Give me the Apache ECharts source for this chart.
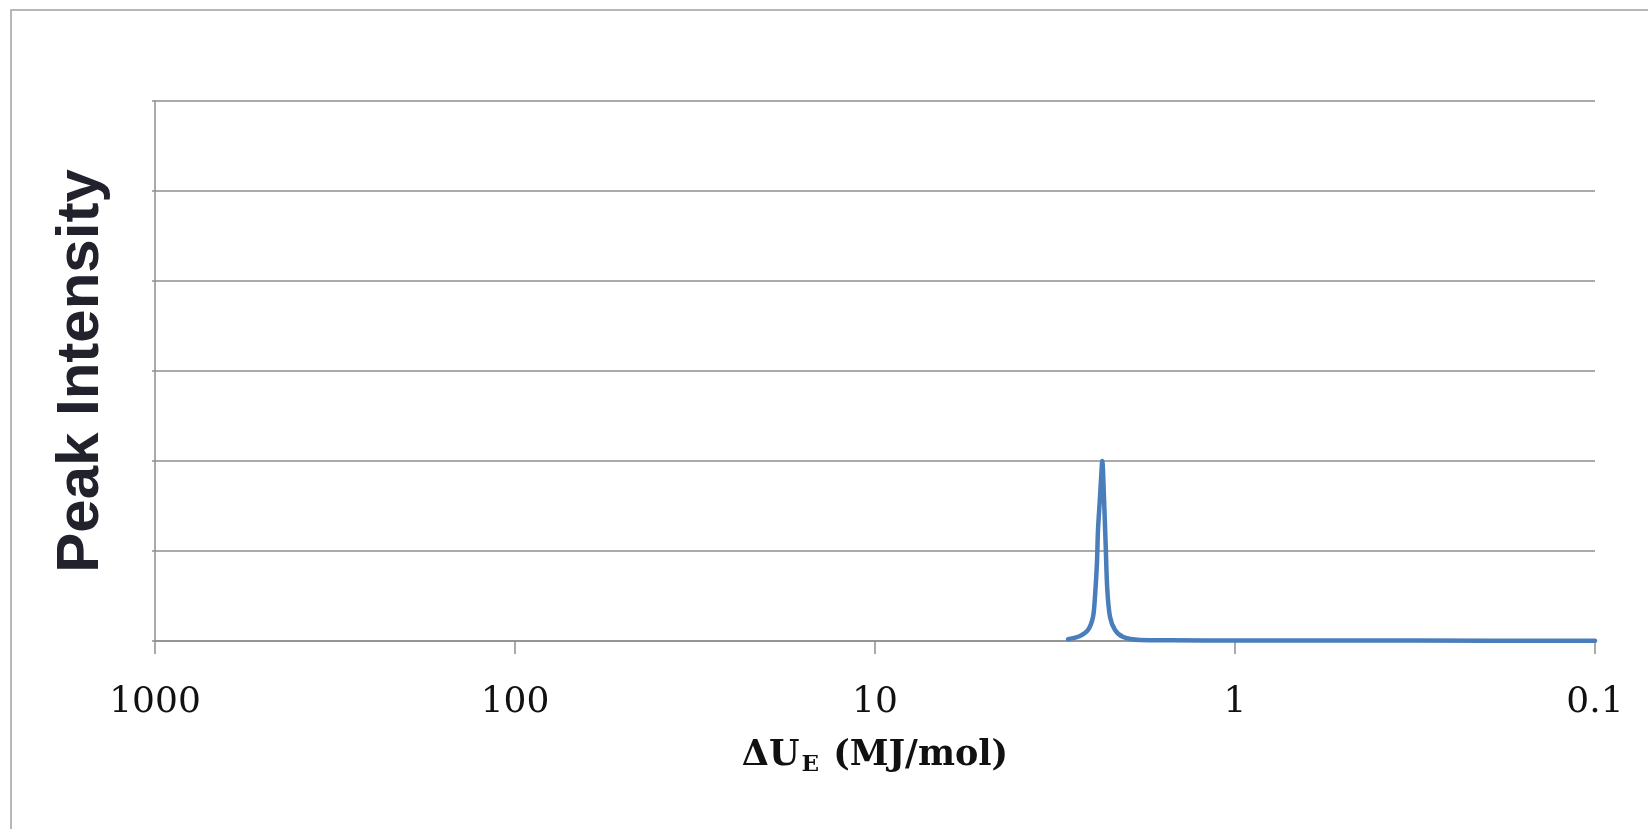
<!DOCTYPE html>
<html>
<head>
<meta charset="utf-8">
<script src="https://cdn.jsdelivr.net/npm/echarts@6/dist/echarts.min.js"></script>
<style>html,body{margin:0;padding:0;background:#fff}#c{width:1648px;height:829px}</style>
</head>
<body>
<div id="c"></div>
<script>
// Energy values (MJ/mol) and peak intensities
var energy = [2.910, 2.695, 2.561, 2.480, 2.449, 2.418, 2.402, 2.371, 2.341, 2.337,
              2.312, 2.286, 2.263, 2.224, 2.154, 2.047, 1.836, 1.5, 1.0, 0.5, 0.2, 0.1];
var intensity = [0.019, 0.056, 0.122, 0.267, 0.49, 0.868, 1.236, 1.603, 1.982, 2.0,
                 1.603, 1.046, 0.568, 0.267, 0.122, 0.045, 0.011, 0.008, 0.006, 0.005, 0.004, 0.004];
var xTickLabels = {1000: '1000', 100: '100', 10: '10', 1: '1', 0.1: '0.1'};
var yMin = 0, yMax = 6, yStep = 1;

var data = energy.map(function (e, i) { return [e, intensity[i]]; });
var gridColor = '#8e8e8e';

var chart = echarts.init(document.getElementById('c'));
chart.setOption({
  animation: false,
  backgroundColor: '#ffffff',
  graphic: [{
    type: 'rect', silent: true,
    shape: {x: 11, y: 10, width: 3000, height: 3000},
    style: {fill: 'none', stroke: '#a0a0a0', lineWidth: 1.5}
  }],
  grid: {left: 155, right: 53, top: 101, bottom: 188, containLabel: false},
  xAxis: {
    type: 'log', logBase: 10, min: 0.1, max: 1000, inverse: true,
    name: '{b|ΔU}{s|E}{b| (MJ/mol)}',
    nameLocation: 'middle', nameGap: 94,
    nameTextStyle: {
      rich: {
        b: {fontFamily: 'DejaVu Serif', fontWeight: 'bold', fontSize: 35, color: '#111', lineHeight: 42},
        s: {fontFamily: 'DejaVu Serif', fontWeight: 'bold', fontSize: 23, color: '#111', lineHeight: 42, verticalAlign: 'bottom', padding: [0, 2, 0, 2]}
      }
    },
    axisLine: {show: true, lineStyle: {color: gridColor, width: 1.5}},
    axisTick: {show: true, length: 13, lineStyle: {color: gridColor, width: 1.5}},
    minorTick: {show: false},
    splitLine: {show: false},
    axisLabel: {
      margin: 44, fontFamily: 'DejaVu Serif', fontSize: 36, color: '#111',
      formatter: function (v) {
        var k = Object.keys(xTickLabels).find(function (key) { return Math.abs(Number(key) - v) < 1e-9 * Math.max(1, v); });
        return k !== undefined ? xTickLabels[k] : '';
      }
    }
  },
  yAxis: {
    type: 'value', min: yMin, max: yMax, interval: yStep,
    name: 'Peak Intensity', nameLocation: 'middle', nameGap: 44,
    nameTextStyle: {fontFamily: 'Liberation Sans', fontWeight: 'bold', fontSize: 60, color: '#22222c'},
    axisLine: {show: true, lineStyle: {color: gridColor, width: 1.5}},
    axisTick: {show: true, length: 3, lineStyle: {color: gridColor, width: 1.5}},
    axisLabel: {show: false},
    splitLine: {show: true, lineStyle: {color: gridColor, width: 1.5}}
  },
  series: [{
    type: 'line', data: data, symbol: 'none', smooth: 0.3,
    lineStyle: {color: '#4a7ebb', width: 4.5, join: 'round', cap: 'round'},
    clip: true
  }]
});
</script>
</body>
</html>
